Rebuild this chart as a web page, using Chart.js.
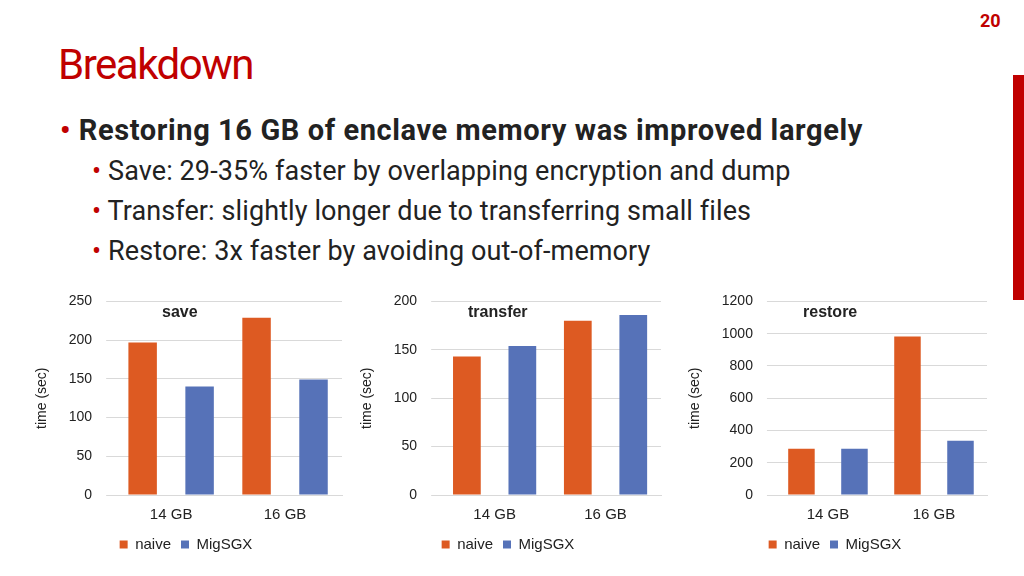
<!DOCTYPE html>
<html><head><meta charset="utf-8">
<script src="https://cdn.jsdelivr.net/npm/chart.js@4"></script>
<style>
body{margin:0;width:1024px;height:576px;background:#fff;position:relative;overflow:hidden;font-family:"Roboto","Liberation Sans",sans-serif;}
.abs{position:absolute;white-space:nowrap;}
#title{left:58px;top:40px;font-size:42px;color:#C00000;letter-spacing:-1.5px;}
#num{left:980px;top:10px;font-size:18px;color:#C00000;font-weight:bold;}
#bar{left:1013px;top:75px;width:11px;height:225px;background:#C00000;}
.b{color:#222;}
.dot{color:#C00000;}
.ct{font-family:"Liberation Sans",Arial,sans-serif;font-weight:bold;font-size:16px;color:#222;}
</style></head><body>
<div id="num" class="abs">20</div>
<div id="bar" class="abs"></div>
<div id="title" class="abs">Breakdown</div>
<div class="abs b" style="left:60px;top:113px;font-size:29px;font-weight:bold;letter-spacing:0.6px;"><span class="dot">•</span> Restoring 16 GB of enclave memory was improved largely</div>
<div class="abs b" style="left:92px;top:155px;font-size:27px;letter-spacing:0.1px;"><span class="dot">•</span> Save: 29-35% faster by overlapping encryption and dump</div>
<div class="abs b" style="left:92px;top:195px;font-size:27px;letter-spacing:0.1px;"><span class="dot">•</span> Transfer: slightly longer due to transferring small files</div>
<div class="abs b" style="left:92px;top:235px;font-size:27px;letter-spacing:0.1px;"><span class="dot">•</span> Restore: 3x faster by avoiding out-of-memory</div>

<div class="abs" style="left:30px;top:279px;width:318px;height:283px;"><canvas id="c1"></canvas></div>
<div class="abs" style="left:355px;top:279px;width:312px;height:283px;"><canvas id="c2"></canvas></div>
<div class="abs" style="left:683px;top:279px;width:310px;height:283px;"><canvas id="c3"></canvas></div>
<div class="abs ct" style="left:162px;top:303px;">save</div>
<div class="abs ct" style="left:468px;top:303px;">transfer</div>
<div class="abs ct" style="left:803px;top:303px;">restore</div>
<script>
const categories=["14 GB","16 GB"];
const seriesNames=["naive","MigSGX"];
const saveNaive=[197,229], saveMig=[140,149];
const transferNaive=[143,180], transferMig=[154,186];
const restoreNaive=[286,982], restoreMig=[286,336];
const colors=["#DD5A22","#5672B8"];
function mk(id,a,b,max,step){
 new Chart(document.getElementById(id),{type:'bar',
  data:{labels:categories,datasets:[
   {label:seriesNames[0],data:a,backgroundColor:colors[0]},
   {label:seriesNames[1],data:b,backgroundColor:colors[1]}]},
  options:{responsive:true,maintainAspectRatio:false,animation:false,
   datasets:{bar:{barPercentage:0.5,categoryPercentage:1.0}},
   layout:{padding:{top:2,right:6}},
   plugins:{legend:{position:'bottom',labels:{boxWidth:8,boxHeight:8,color:'#222',font:{size:15,family:'Liberation Sans'}}},tooltip:{enabled:false}},
   scales:{
    x:{grid:{display:false},border:{color:'#d9d9d9'},ticks:{color:'#222',font:{size:15,family:'Liberation Sans'}}},
    y:{min:0,max:max,ticks:{stepSize:step,color:'#222',padding:14,font:{size:14,family:'Liberation Sans'},callback:v=>String(v)},grid:{color:'#d9d9d9'},border:{display:false},
       title:{display:true,text:'time (sec)',color:'#222',font:{size:14,family:'Liberation Sans'}}}}}});
}
mk('c1',saveNaive,saveMig,250,50);
mk('c2',transferNaive,transferMig,200,50);
mk('c3',restoreNaive,restoreMig,1200,200);
</script></body></html>
